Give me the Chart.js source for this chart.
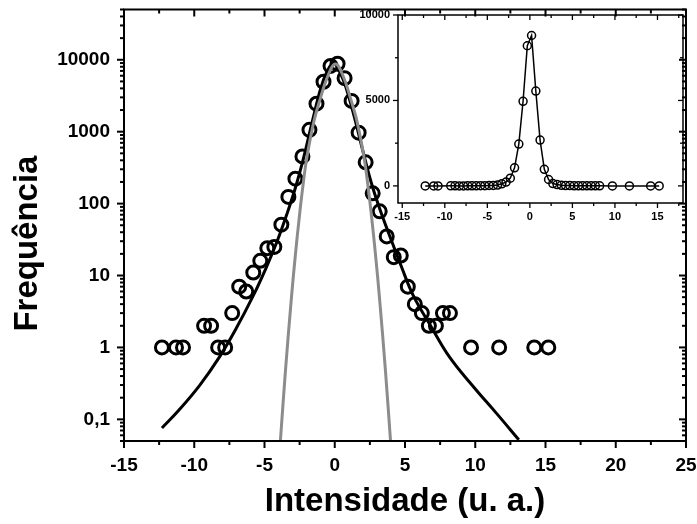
<!DOCTYPE html>
<html>
<head>
<meta charset="utf-8">
<script src="https://cdn.jsdelivr.net/npm/chart.js@4/dist/chart.umd.min.js"></script>
<style>
  body { margin: 0; background: #fff; }
  #wrap { position: relative; width: 697px; height: 524px; }
  #main { position: absolute; left: 0; top: 0; }
  #inset { position: absolute; left: 355px; top: 0; }
</style>
</head>
<body>
<div id="wrap">
  <canvas id="main" width="697" height="524"></canvas>
  <canvas id="inset" width="342" height="232"></canvas>
</div>
<script>
const Chart = window.Chart;
const FONT = '"Liberation Sans", Arial, sans-serif';

// measured histogram (open circles)
const intensity = [-12.3, -11.3, -10.8, -9.3, -8.8, -8.3, -7.8, -7.3, -6.8, -6.3, -5.8, -5.3, -4.8, -4.3,
  -3.8, -3.3, -2.8, -2.3, -1.8, -1.3, -0.8, -0.3, 0.2, 0.7, 1.2, 1.7, 2.2, 2.7, 3.2, 3.7, 4.2, 4.7,
  5.2, 5.7, 6.2, 6.7, 7.2, 7.7, 8.2, 9.7, 11.7, 14.2, 15.2];
const frequency = [1, 1, 1, 2, 2, 1, 1, 3, 7, 6, 11, 16, 24, 25,
  51, 124, 222, 453, 1060, 2450, 4950, 8200, 8800, 5550, 2680, 970, 375, 139, 78, 35, 18, 19,
  7, 4, 3, 2, 2, 3, 3, 1, 1, 1, 1];

// black fitted curve
const fitX = [-12.3, -11.1, -9.6, -8.2, -7.0, -5.8, -4.9, -4.1, -3.4, -2.8, -2.2, -1.6, -1.0, -0.6, -0.1,
  0.4, 0.8, 1.4, 2.0, 2.6, 3.2, 3.9, 4.7, 5.6, 6.8, 8.2, 9.9, 11.5, 13.1];
const fitY = [0.076, 0.134, 0.30, 0.74, 1.86, 5.25, 12.6, 30, 72, 166, 447, 1380, 3980, 6500, 9000,
  6500, 4100, 1580, 540, 195, 85, 36, 14, 5.2, 2.04, 0.72, 0.28, 0.122, 0.052];

// grey gaussian curve
const gaussX = [-3.87, -3.5, -3.08, -2.8, -2.55, -2.3, -2.0, -1.5, -1.07, -0.5, 0.05,
  0.6, 1.17, 1.6, 2.1, 2.4, 2.65, 2.9, 3.18, 3.6, 3.97];
const gaussY = [0.05, 0.5, 5, 19.5, 58, 155, 420, 1350, 2700, 5900, 8700,
  5900, 2700, 1350, 420, 155, 58, 19.5, 5, 0.5, 0.05];

// tick labels
const xTicks = [-15, -10, -5, 0, 5, 10, 15, 20, 25];
const yTicks = [0.1, 1, 10, 100, 1000, 10000];
const insetXTicks = [-15, -10, -5, 0, 5, 10, 15];
const insetYTicks = [0, 5000, 10000];

const pts = (xs, ys) => xs.map((x, i) => ({x: x, y: ys[i]}));

const noPad = s => { s.paddingLeft = 0; s.paddingRight = 0; s.paddingTop = 0; s.paddingBottom = 0; };

const frameTicks = {
  id: 'frameTicks',
  afterDatasetsDraw(chart, args, o) {
    const {ctx, chartArea: a} = chart;
    const sx = chart.scales.x, sy = chart.scales.y;
    ctx.save();
    ctx.strokeStyle = '#000';
    ctx.lineWidth = o.frame;
    ctx.strokeRect(a.left, a.top, a.right - a.left, a.bottom - a.top);
    ctx.lineWidth = o.tickWidth;
    const seg = (x1, y1, x2, y2) => { ctx.beginPath(); ctx.moveTo(x1, y1); ctx.lineTo(x2, y2); ctx.stroke(); };
    const xs = o.xMajor.map(v => [v, o.major]).concat(o.xMinor.map(v => [v, o.minor]));
    for (const [v, len] of xs) {
      const px = sx.getPixelForValue(v);
      seg(px, a.bottom, px, a.bottom + len);
      seg(px, a.top, px, a.top + len);
    }
    const ys = o.yMajor.map(v => [v, o.major]).concat(o.yMinor.map(v => [v, o.minor]));
    for (const [v, len] of ys) {
      const py = sy.getPixelForValue(v);
      seg(a.left, py, a.left - len, py);
      seg(a.right, py, a.right - len, py);
    }
    ctx.restore();
  }
};

const logMinor = [];
for (const d of [0.01, 0.1, 1, 10, 100, 1000, 10000]) {
  for (let m = 2; m <= 9; m++) {
    const v = m * d;
    if (v >= 0.05 && v <= 50000) logMinor.push(v);
  }
}

new Chart(document.getElementById('main').getContext('2d'), {
  type: 'scatter',
  data: {
    datasets: [
      {
        data: pts(gaussX, gaussY), showLine: true, borderColor: '#8c8c8c', borderWidth: 3,
        pointRadius: 0, tension: 0.4
      },
      {
        data: pts(fitX, fitY), showLine: true, borderColor: '#000', borderWidth: 3,
        pointRadius: 0, tension: 0.4
      },
      {
        data: pts(intensity, frequency), showLine: false, pointRadius: 6.5, pointBorderWidth: 3,
        pointBorderColor: '#000', pointBackgroundColor: 'rgba(0,0,0,0)', pointHoverRadius: 6.5
      }
    ]
  },
  options: {
    responsive: false,
    animation: false,
    events: [],
    layout: {padding: {top: 6, right: 11, left: 0, bottom: 0}},
    plugins: {
      legend: {display: false},
      tooltip: {enabled: false},
      frameTicks: {
        frame: 2, tickWidth: 2, major: 7, minor: 4,
        xMajor: xTicks, xMinor: xTicks.slice(0, -1).map(v => v + 2.5),
        yMajor: yTicks, yMinor: logMinor
      }
    },
    scales: {
      x: {
        type: 'linear', min: -15, max: 25,
        afterFit: s => { s.height = 83; noPad(s); },
        afterBuildTicks: s => { s.ticks = xTicks.map(v => ({value: v})); },
        grid: {display: false, drawTicks: false},
        border: {display: false},
        ticks: {color: '#000', font: {family: FONT, size: 19, weight: 'bold'}, padding: 13,
          maxRotation: 0, autoSkip: false, callback: v => String(v)},
        title: {display: true, text: 'Intensidade (u. a.)', color: '#000',
          font: {family: FONT, size: 33, weight: 'bold'}, padding: {top: 0, bottom: 2}}
      },
      y: {
        type: 'logarithmic', min: 0.05, max: 50000,
        afterFit: s => { s.width = 124; noPad(s); },
        afterBuildTicks: s => { s.ticks = yTicks.map(v => ({value: v})); },
        grid: {display: false, drawTicks: false},
        border: {display: false},
        ticks: {color: '#000', font: {family: FONT, size: 19, weight: 'bold'}, padding: 14,
          autoSkip: false, callback: v => (v < 1 ? String(v).replace('.', ',') : String(v))},
        title: {display: true, text: 'Frequência    ', color: '#000',
          font: {family: FONT, size: 33, weight: 'bold'}, padding: {top: 8, bottom: 0}}
      }
    }
  },
  plugins: [frameTicks]
});

new Chart(document.getElementById('inset').getContext('2d'), {
  type: 'scatter',
  data: {
    datasets: [
      {
        data: pts(intensity, frequency), showLine: true, borderColor: '#000', borderWidth: 1.5,
        pointRadius: 4, pointBorderWidth: 1.5, pointBorderColor: '#000',
        pointBackgroundColor: 'rgba(0,0,0,0)', pointHoverRadius: 4
      }
    ]
  },
  options: {
    responsive: false,
    animation: false,
    events: [],
    layout: {padding: {top: 15, right: 14, left: 0, bottom: 0}},
    plugins: {
      legend: {display: false},
      tooltip: {enabled: false},
      frameTicks: {
        frame: 1.5, tickWidth: 1.3, major: 5, minor: 3,
        xMajor: insetXTicks, xMinor: [-12.5, -7.5, -2.5, 2.5, 7.5, 12.5, 17.5],
        yMajor: insetYTicks, yMinor: [2500, 7500]
      }
    },
    scales: {
      x: {
        type: 'linear', min: -15.5, max: 18,
        afterFit: s => { s.height = 29; noPad(s); },
        afterBuildTicks: s => { s.ticks = insetXTicks.map(v => ({value: v})); },
        grid: {display: false, drawTicks: false},
        border: {display: false},
        ticks: {color: '#000', font: {family: FONT, size: 11, weight: 'bold'}, padding: 7,
          maxRotation: 0, autoSkip: false, callback: v => String(v)}
      },
      y: {
        type: 'linear', min: -1000, max: 10000,
        afterFit: s => { s.width = 43; noPad(s); },
        afterBuildTicks: s => { s.ticks = insetYTicks.map(v => ({value: v})); },
        grid: {display: false, drawTicks: false},
        border: {display: false},
        ticks: {color: '#000', font: {family: FONT, size: 11, weight: 'bold'}, padding: 8,
          autoSkip: false, callback: v => String(v)}
      }
    }
  },
  plugins: [frameTicks]
});
</script>
</body>
</html>
